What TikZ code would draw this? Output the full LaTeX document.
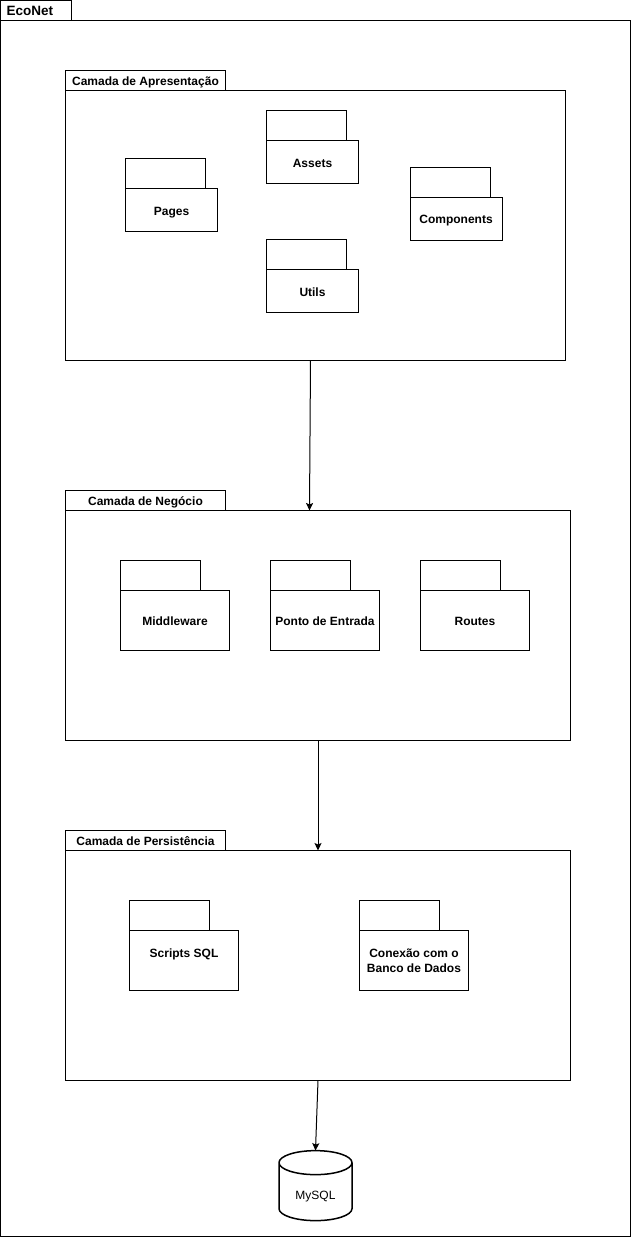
\documentclass[tikz,border=0pt]{standalone}
\usepackage{fontspec}
\setmainfont{Liberation Sans}
\usetikzlibrary{shapes.geometric, arrows.meta}
\tikzset{x=1pt, y=-1pt,
every node/.style={line width=1pt, inner sep=0pt, outer sep=0pt, anchor=north west, font=\fontsize{12}{15}\selectfont}, % Sets the properties for each node
tabbox/.style={draw, font=\fontsize{12}{15}\selectfont\bfseries, align=center, text height=11pt, text depth=0.4pt},
pkgtab/.style={draw, minimum width=80pt, minimum height=30pt},
pkgbody/.style={draw, font=\fontsize{12}{15}\selectfont\bfseries, align=center}, % Small packages and the layer frames
pkgtext/.style={pkgbody, text height=11pt, text depth=0.4pt}, % One line of text, centred on its capitals
link/.style={draw, -{Stealth[length=7.5pt, width=7pt, inset=1.5pt]}, line width=1pt}} % Makes edges directed

\begin{document}
\begin{tikzpicture}[line width=1pt]
    \useasboundingbox (0,0) rectangle (631,1237);

    % outer package
    \node[tabbox, minimum width=71pt, minimum height=20pt, text width=59pt, inner xsep=6pt, align=left, font=\fontsize{13.5}{15}\selectfont\bfseries] (econetTab) at (0.5,0.5) {EcoNet};
    \node[pkgbody, minimum width=630pt, minimum height=1216pt] (econet) at (0.5,20.5) {};

    % presentation layer
    \node[tabbox, minimum width=160pt, minimum height=20pt] (apresentacaoTab) at (65.5,70.5) {Camada de Apresentação};
    \node[pkgbody, minimum width=500pt, minimum height=270pt] (apresentacao) at (65.5,90.5) {};

    \node[pkgtab] (pagesTab) at (125.5,158.5) {};
    \node[pkgtext, minimum width=92pt, minimum height=43pt] (pages) at (125.5,188.5) {Pages};
    \node[pkgtab] (assetsTab) at (266.5,110.5) {};
    \node[pkgtext, minimum width=92pt, minimum height=43pt] (assets) at (266.5,140.5) {Assets};
    \node[pkgtab] (componentsTab) at (410,167) {};
    \node[pkgtext, minimum width=92pt, minimum height=43pt] (components) at (410,197) {Components};
    \node[pkgtab] (utilsTab) at (266.5,239.5) {};
    \node[pkgtext, minimum width=92pt, minimum height=43pt] (utils) at (266.5,269.5) {Utils};

    % business layer
    \node[tabbox, minimum width=160pt, minimum height=20pt] (negocioTab) at (65.5,490.5) {Camada de Negócio};
    \node[pkgbody, minimum width=505pt, minimum height=230pt] (negocio) at (65.5,510.5) {};

    \node[pkgtab] (middlewareTab) at (120.5,560.5) {};
    \node[pkgtext, minimum width=109pt, minimum height=60pt] (middleware) at (120.5,590.5) {Middleware};
    \node[pkgtab] (pontoTab) at (270.5,560.5) {};
    \node[pkgtext, minimum width=109pt, minimum height=60pt] (ponto) at (270.5,590.5) {Ponto de Entrada};
    \node[pkgtab] (routesTab) at (420.5,560.5) {};
    \node[pkgtext, minimum width=109pt, minimum height=60pt] (routes) at (420.5,590.5) {Routes};

    % persistence layer
    \node[tabbox, minimum width=160pt, minimum height=20pt] (persistenciaTab) at (65.5,830.5) {Camada de Persistência};
    \node[pkgbody, minimum width=505pt, minimum height=230pt] (persistencia) at (65.5,850.5) {};

    \node[pkgtab] (scriptsTab) at (129.5,900.5) {};
    \node[pkgbody, minimum width=109pt, minimum height=60pt] (scripts) at (129.5,930.5) {Scripts SQL\\\mbox{}};
    \node[pkgtab] (conexaoTab) at (359.5,900.5) {};
    \node[pkgbody, minimum width=109pt, minimum height=60pt] (conexao) at (359.5,930.5) {Conexão com o\\Banco de Dados};

    % database
    \node[draw, line width=1.5pt, shape=cylinder, shape border rotate=90, aspect=0.6, anchor=center, text height=18pt, text depth=2.5pt, minimum width=73pt, minimum height=70pt] (mysql) at (315.5,1192) {MySQL};

    \draw[link] ([xshift=-5pt]apresentacao.south) -- ([xshift=-8.5pt]negocio.north);
    \draw[link] (negocio.south) -- (persistencia.north);
    \draw[link] (persistencia.south) -- (mysql.top);

    \end{tikzpicture}
\end{document}
